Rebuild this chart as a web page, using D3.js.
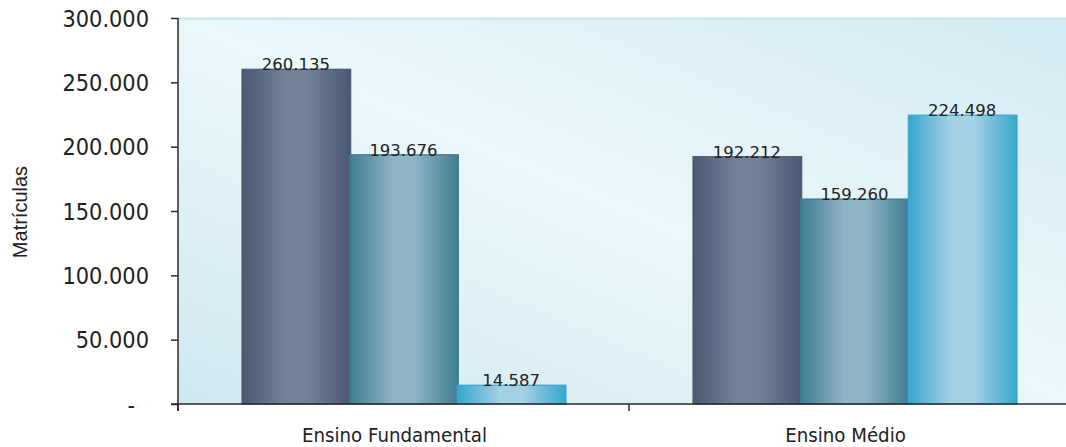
<!DOCTYPE html>
<html>
<head>
<meta charset="utf-8">
<script src="https://cdn.jsdelivr.net/npm/d3@7"></script>
<style>
  html, body { margin: 0; padding: 0; background: #fff; }
  svg { display: block; }
  text { fill: #222; }
</style>
</head>
<body>
<svg id="chart" width="1066" height="447"></svg>
<script>
// Matrículas por etapa de ensino
const categories = ["Ensino Fundamental", "Ensino Médio"];
const series = ["s1", "s2", "s3"];
const fundamentalValues = [260135, 193676, 14587];
const medioValues = [192212, 159260, 224498];
const yTicks = [0, 50000, 100000, 150000, 200000, 250000, 300000];
const yTickLabels = ["-", "50.000", "100.000", "150.000", "200.000", "250.000", "300.000"];
const valueLabels = [["260.135", "193.676", "14.587"], ["192.212", "159.260", "224.498"]];
const yTitle = "Matrículas";

const rows = categories.map((c, i) => ({
  category: c,
  values: [fundamentalValues, medioValues][i]
}));

const svg = d3.select("#chart");
const plotLeft = 178, plotRight = 1080, plotTop = 18, plotBottom = 404;

const x0 = d3.scaleBand().domain(categories).range([plotLeft, plotRight]);
const x1 = d3.scaleBand().domain(series).range([64, x0.bandwidth() - 64]);
const y = d3.scaleLinear().domain([0, 300000]).range([plotBottom, plotTop]);

const defs = svg.append("defs");

// plot background: light diagonal wash
const bg = defs.append("linearGradient").attr("id", "bg")
  .attr("x1", 0).attr("y1", 1).attr("x2", 1).attr("y2", 0);
bg.append("stop").attr("offset", 0).attr("stop-color", "#cfe9f1");
bg.append("stop").attr("offset", 0.5).attr("stop-color", "#ebf7fb");
bg.append("stop").attr("offset", 1).attr("stop-color", "#d2ebf3");

// cylindrical shading for each series
const barStyles = [
  { edge: "#4a5871", mid: "#718298", stroke: "#4d5b73" },
  { edge: "#3f7c91", mid: "#8fb4c4", stroke: "#3a7a90" },
  { edge: "#36a6cd", mid: "#a5d1e5", stroke: "#3aa8d0" }
];
barStyles.forEach((s, i) => {
  const g = defs.append("linearGradient").attr("id", "bar" + i)
    .attr("x1", 0).attr("y1", 0).attr("x2", 1).attr("y2", 0);
  g.append("stop").attr("offset", 0).attr("stop-color", s.edge);
  g.append("stop").attr("offset", 0.4).attr("stop-color", s.mid);
  g.append("stop").attr("offset", 0.6).attr("stop-color", s.mid);
  g.append("stop").attr("offset", 1).attr("stop-color", s.edge);
});

svg.append("rect")
  .attr("x", plotLeft).attr("y", plotTop)
  .attr("width", plotRight - plotLeft).attr("height", plotBottom - plotTop)
  .attr("fill", "url(#bg)");
svg.append("line")
  .attr("x1", plotLeft).attr("x2", plotRight)
  .attr("y1", plotTop + 0.5).attr("y2", plotTop + 0.5)
  .attr("stroke", "#c4e5f4").attr("stroke-width", 2);

// bars
const groups = svg.append("g").selectAll("g")
  .data(rows).join("g")
  .attr("transform", d => `translate(${x0(d.category)},0)`);

groups.selectAll("rect")
  .data(d => d.values.map((v, i) => ({ key: series[i], v, i })))
  .join("rect")
  .attr("x", d => x1(d.key))
  .attr("y", d => y(d.v))
  .attr("width", x1.bandwidth() + 1)
  .attr("height", d => plotBottom - y(d.v))
  .attr("fill", d => `url(#bar${d.i})`)
  .attr("stroke", d => barStyles[d.i].stroke)
  .attr("stroke-width", 1.2);

// narrow the glyphs a little, like a condensed face
function condense(sel, k) {
  sel.each(function () {
    const w = this.getComputedTextLength();
    d3.select(this).attr("textLength", w * k).attr("lengthAdjust", "spacingAndGlyphs");
  });
}

// value labels
groups.selectAll("text.val")
  .data((d, ci) => d.values.map((v, i) => ({ key: series[i], v, label: valueLabels[ci][i] })))
  .join("text")
  .attr("class", "val")
  .attr("x", d => x1(d.key) + x1.bandwidth() / 2)
  .attr("y", d => y(d.v) + 1)
  .attr("text-anchor", "middle")
  .style("font-family", "'DejaVu Sans', Verdana, sans-serif")
  .style("font-size", "16.5px")
  .text(d => d.label);

// y axis
const yAxis = d3.axisLeft(y)
  .tickValues(yTicks)
  .tickFormat((d, i) => yTickLabels[i])
  .tickSize(7)
  .tickPadding(22);
const gy = svg.append("g")
  .attr("transform", `translate(${plotLeft},0)`)
  .call(yAxis);
gy.select(".domain").remove();
gy.selectAll(".tick line").attr("stroke", "#2a2a2a").attr("stroke-width", 1.5);
gy.selectAll(".tick text")
  .style("font-family", "'DejaVu Sans', Verdana, sans-serif")
  .style("font-size", "23px")
  .attr("fill", "#222")
  .attr("dy", "0.36em")
  .call(condense, 0.91);
gy.selectAll(".tick text").filter(d => d === 0).attr("dx", -14);

// x axis: category separators and labels
const gx = svg.append("g")
  .attr("transform", `translate(0,${plotBottom})`);
const seps = [plotLeft, plotLeft + x0.step()];
gx.selectAll("line.sep").data(seps).join("line")
  .attr("class", "sep")
  .attr("x1", d => d).attr("x2", d => d)
  .attr("y1", 0).attr("y2", 7)
  .attr("stroke", "#2a2a2a").attr("stroke-width", 1.5);
gx.selectAll("text.cat").data(categories).join("text")
  .attr("class", "cat")
  .attr("x", d => x0(d) + x0.bandwidth() / 2 - 9)
  .attr("y", 38)
  .attr("text-anchor", "middle")
  .style("font-family", "'DejaVu Sans', Verdana, sans-serif")
  .style("font-size", "20px")
  .text(d => d)
  .call(condense, 0.91);

// axis lines
svg.append("line")
  .attr("x1", plotLeft).attr("x2", plotLeft)
  .attr("y1", plotTop).attr("y2", plotBottom + 7)
  .attr("stroke", "#2a2a2a").attr("stroke-width", 1.5);
svg.append("line")
  .attr("x1", plotLeft - 7).attr("x2", plotRight)
  .attr("y1", plotBottom).attr("y2", plotBottom)
  .attr("stroke", "#2a2a2a").attr("stroke-width", 1.5);

// y title
svg.append("text")
  .attr("transform", `translate(27,212) rotate(-90)`)
  .attr("text-anchor", "middle")
  .style("font-family", "'Liberation Sans', Arial, sans-serif")
  .style("font-size", "20px")
  .text(yTitle);
</script>
</body>
</html>
